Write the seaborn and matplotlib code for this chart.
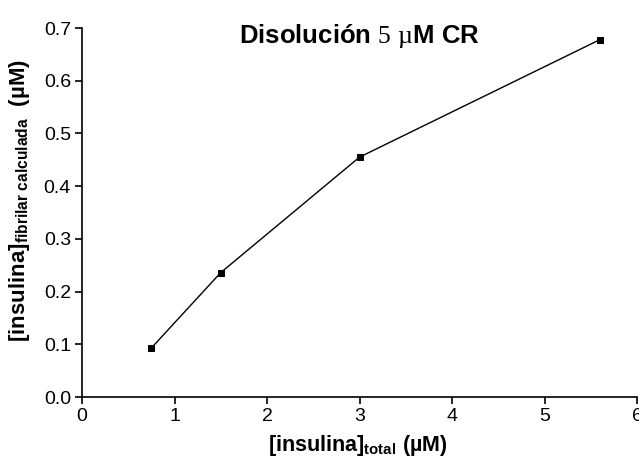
import matplotlib
matplotlib.use("Agg")
import matplotlib.pyplot as plt
import seaborn as sns
import pandas as pd

insulina_total = [0.75, 1.5, 3.0, 5.6]
insulina_fibrilar = [0.093, 0.236, 0.455, 0.678]
x_ticks = [0, 1, 2, 3, 4, 5, 6]
y_ticks = [0.0, 0.1, 0.2, 0.3, 0.4, 0.5, 0.6, 0.7]

sns.set_style("ticks")
plt.rcParams['font.family'] = ['Liberation Sans', 'DejaVu Sans']
plt.rcParams['mathtext.fontset'] = 'custom'
plt.rcParams['mathtext.rm'] = 'Liberation Serif'
plt.rcParams['mathtext.bf'] = 'Liberation Sans:bold'
plt.rcParams['mathtext.it'] = 'Liberation Sans:italic'
plt.rcParams['mathtext.sf'] = 'Liberation Sans'
plt.rcParams['text.color'] = 'black'
plt.rcParams['axes.labelcolor'] = 'black'
plt.rcParams['xtick.color'] = 'black'
plt.rcParams['ytick.color'] = 'black'

df = pd.DataFrame({"x": insulina_total, "y": insulina_fibrilar})

fig = plt.figure(figsize=(6.39, 4.57), dpi=100)
ax = fig.add_axes([82/639, 60/457, 555/639, 369/457])

sns.lineplot(data=df, x="x", y="y", ax=ax, color="black", linewidth=1.0,
             marker="s", markersize=5, markeredgecolor="black",
             markerfacecolor="black", clip_on=False)

ax.set_xlim(0, 6)
ax.set_ylim(0, 0.7)
ax.set_xticks(x_ticks)
ax.set_xticklabels([str(t) for t in x_ticks])
ax.set_yticks(y_ticks)
ax.set_yticklabels([f"{t:.1f}" for t in y_ticks])
sns.despine(ax=ax)
for s in ["left", "bottom"]:
    ax.spines[s].set_linewidth(1.2)
    ax.spines[s].set_color("black")
ax.tick_params(axis="both", direction="out", length=5, width=1.2, colors="black",
               labelcolor="black", labelsize=14, pad=3)

ax.set_xlabel(r"$\mathbf{[insulina]_{total}\ (µM)}$", fontsize=15.5, color="black")
ax.set_ylabel(r"$\mathbf{[insulina]_{fibrilar\ calculada}\ \ (µM)}$", fontsize=16, color="black")
ax.xaxis.set_label_coords(0.497, -0.097)
ax.yaxis.set_label_coords(-0.09, 0.531)

fig.text(0.563, (457 - 43) / 457, r"Disolución $\mathrm{5\ µ}$M CR", ha="center", va="baseline",
         fontsize=18.5, fontweight="bold", color="black")

fig.savefig("out.png", dpi=100)
